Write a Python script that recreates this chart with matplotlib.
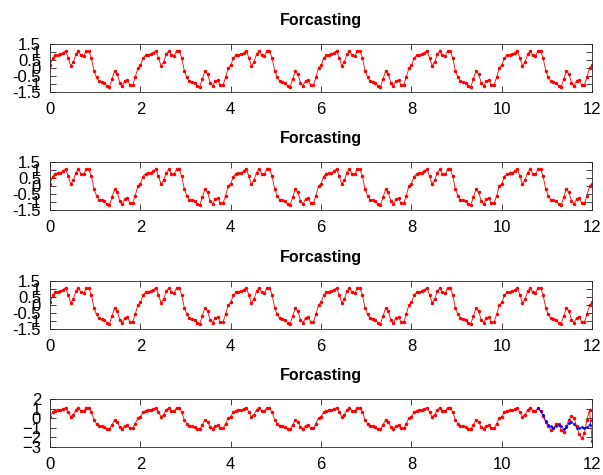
import numpy as np
import matplotlib
matplotlib.use("Agg")
import matplotlib.pyplot as plt

plt.rcParams['font.family'] = ['Liberation Sans', 'DejaVu Sans']

# one cycle of the signal (35 samples over 2 time units)
cycle = [0.17, 0.62, 0.80, 0.83, 0.86, 0.95, 1.10, 0.65, 0.15, 0.38,
         0.87, 1.07, 0.80, 0.75, 1.07, 1.07, 0.65, -0.15, -0.58, -0.83,
         -0.86, -0.90, -1.11, -1.16, -0.68, -0.17, -0.36, -0.90, -1.10, -0.78,
         -0.75, -1.06, -1.06, -0.57, 0.01]
n_cycles = 6
t_end = 12.0

# last stretch of the bottom panel: two series over the final 22 samples
pred_blue = [1.04, 0.75, 0.30, -0.30, -0.70, -0.86, -1.00, -0.86, -0.70, -0.86,
             -1.15, -0.96, -0.55, -0.40, -0.60, -1.00, -1.04, -0.96, -1.04, -0.96,
             -0.68, -0.14]
pred_red = [1.04, 0.75, 0.20, -0.40, -0.86, -1.21, -1.04, -0.61, -0.61, -1.21,
            -1.39, -0.86, -0.14, 0.21, 0.04, -0.86, -1.68, -2.11, -1.57, -0.14,
            0.86, -2.39]

yticks_small = [-1.5, -1, -0.5, 0, 0.5, 1, 1.5]
yticks_big = [-3, -2, -1, 0, 1, 2]
xticks = [0, 2, 4, 6, 8, 10, 12]

y = np.array(cycle * n_cycles + [cycle[0]])
t = np.linspace(0, t_end, len(y))

y4 = y.copy()
y4[-len(pred_red):] = pred_red
t_pred = t[-len(pred_blue):]

fig = plt.figure(figsize=(6.03, 4.75), dpi=100)
bottoms = [0.806, 0.557, 0.307, 0.059]
axes = [fig.add_axes([0.083, b, 0.899, 0.101]) for b in bottoms]

for i, ax in enumerate(axes):
    if i < 3:
        ax.plot(t, y, color='#ff0000', lw=0.6, marker='.', ms=3)
        ax.set_ylim(-1.5, 1.5)
        ax.set_yticks(yticks_small)
        ax.set_yticklabels(['-1.5', '-1', '-0.5', '0', '0.5', '1', '1.5'])
    else:
        ax.plot(t, y4, color='#ff0000', lw=0.6, marker='.', ms=3)
        ax.plot(t_pred, pred_blue, color='#0000ff', lw=0.5, marker='.', ms=2)
        ax.set_ylim(-3, 2)
        ax.set_yticks(yticks_big)
    ax.set_xlim(0, t_end)
    ax.set_xticks(xticks)
    ax.set_title('Forcasting', fontsize=11.5, fontweight='bold', pad=14)
    ax.tick_params(direction='in', top=True, right=True, length=4,
                   width=0.6, color='#262626', labelsize=12, pad=7)
    ax.tick_params(axis='y', pad=6.5)
    for s in ax.spines.values():
        s.set_color('#262626')
        s.set_linewidth(0.6)

fig.savefig('out.png', dpi=100, facecolor='white')
